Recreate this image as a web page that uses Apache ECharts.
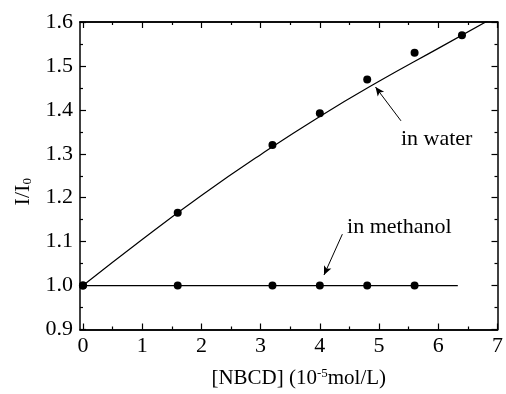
<!DOCTYPE html>
<html>
<head>
<meta charset="utf-8">
<script src="https://cdn.jsdelivr.net/npm/echarts@6/dist/echarts.min.js"></script>
<style>
  html, body { margin: 0; padding: 0; background: #fff; }
  #chart { width: 506px; height: 394px; }
</style>
</head>
<body>
<div id="chart"></div>
<script>
// measured points
var concWater = [0, 1.6, 3.2, 4.0, 4.8, 5.6, 6.4];
var ratioWater = [1.0, 1.166, 1.32, 1.392, 1.469, 1.53, 1.57];
var concMethanol = [0, 1.6, 3.2, 4.0, 4.8, 5.6];
var ratioMethanol = [1.0, 1.0, 1.0, 1.0, 1.0, 1.0];

// fitted curve
var fitX = [0, 1, 2, 3, 4, 5, 6, 7];
var fitWater = [1.0, 1.105, 1.205, 1.298, 1.385, 1.465, 1.54, 1.615];
var methanolLineX = [0, 6.33];
var methanolLineY = [1.0, 1.0];

var xTicks = [0, 1, 2, 3, 4, 5, 6, 7];
var xMinorTicks = [0.5, 1.5, 2.5, 3.5, 4.5, 5.5, 6.5];

function pairs(xs, ys) {
    return xs.map(function (x, i) { return [x, ys[i]]; });
}

var font = 'Liberation Serif';
var black = '#000';

function xAxisCfg(pos, ticks, len, labels) {
    return {
        type: 'value', position: pos, min: -0.05, max: 7,
        axisLine: { show: true, onZero: false, lineStyle: { color: black, width: 1.5 } },
        axisTick: { show: true, inside: true, length: len, customValues: ticks, lineStyle: { color: black, width: 1.2 } },
        axisLabel: labels ? {
            show: true, customValues: xTicks, showMaxLabel: true, showMinLabel: true,
            margin: 6, color: black, fontFamily: font, fontSize: 22
        } : { show: false },
        splitLine: { show: false }
    };
}

function yAxisCfg(pos, labels) {
    return {
        type: 'value', position: pos, min: 0.9, max: 1.6, interval: 0.1,
        axisLine: { show: true, onZero: false, lineStyle: { color: black, width: 1.5 } },
        axisTick: { show: true, inside: true, length: 6, lineStyle: { color: black, width: 1.2 } },
        minorTick: { show: true, splitNumber: 2, length: 3, lineStyle: { color: black, width: 1.2 } },
        axisLabel: labels ? {
            show: true, margin: 7, color: black, fontFamily: font, fontSize: 22,
            formatter: function (v) { return v.toFixed(1); }
        } : { show: false },
        splitLine: { show: false }
    };
}

var chart = echarts.init(document.getElementById('chart'));

var xBottom = xAxisCfg('bottom', xTicks, 6, true);
xBottom.name = '[NBCD] (10{sup|-5}mol/L)';
xBottom.nameLocation = 'middle';
xBottom.nameGap = 38;
xBottom.nameTextStyle = {
    color: black, fontFamily: font, fontSize: 21, padding: [0, 0, 0, 20],
    rich: { sup: { fontSize: 13, fontFamily: font, color: black, padding: [0, 0, 9, 0] } }
};

var yLeft = yAxisCfg('left', true);
yLeft.name = 'I/I{sub|0}';
yLeft.nameLocation = 'middle';
yLeft.nameRotate = 90;
yLeft.nameGap = 41;
yLeft.nameTextStyle = {
    color: black, fontFamily: font, fontSize: 22, padding: [0, 32, 0, 0],
    rich: { sub: { fontSize: 13, fontFamily: font, color: black, padding: [8, 0, 0, 0] } }
};

var option = {
    animation: false,
    backgroundColor: '#fff',
    grid: { left: 80, right: 7, top: 22, bottom: 62 },
    xAxis: [
        xBottom,
        xAxisCfg('bottom', xMinorTicks, 3, false),
        xAxisCfg('top', xTicks, 6, false),
        xAxisCfg('top', xMinorTicks, 3, false)
    ],
    yAxis: [yLeft, yAxisCfg('right', false)],
    series: [
        {
            name: 'water fit', type: 'line', data: pairs(fitX, fitWater), smooth: true,
            showSymbol: false, clip: true, lineStyle: { color: black, width: 1.2 }, silent: true,
            markLine: {
                silent: true, symbol: ['none', 'arrow'], symbolSize: [6, 9],
                label: { show: false },
                lineStyle: { color: black, width: 1, type: 'solid' },
                data: [[{ coord: [5.37, 1.375] }, { coord: [4.94, 1.452] }]]
            },
            markPoint: {
                silent: true, symbol: 'circle', symbolSize: 0,
                data: [{
                    coord: [5.37, 1.334],
                    label: { show: true, formatter: 'in water', position: 'right', distance: 0, color: black, fontFamily: font, fontSize: 22 }
                }]
            }
        },
        {
            name: 'methanol line', type: 'line', data: pairs(methanolLineX, methanolLineY),
            showSymbol: false, lineStyle: { color: black, width: 1.2 }, silent: true,
            markLine: {
                silent: true, symbol: ['none', 'arrow'], symbolSize: [6, 9],
                label: { show: false },
                lineStyle: { color: black, width: 1, type: 'solid' },
                data: [[{ coord: [4.38, 1.117] }, { coord: [4.07, 1.024] }]]
            },
            markPoint: {
                silent: true, symbol: 'circle', symbolSize: 0,
                data: [{
                    coord: [4.46, 1.133],
                    label: { show: true, formatter: 'in methanol', position: 'right', distance: 0, color: black, fontFamily: font, fontSize: 22 }
                }]
            }
        },
        {
            name: 'in water', type: 'scatter', data: pairs(concWater, ratioWater),
            symbol: 'circle', symbolSize: 8, itemStyle: { color: black, opacity: 1 }, clip: false
        },
        {
            name: 'in methanol', type: 'scatter', data: pairs(concMethanol, ratioMethanol),
            symbol: 'circle', symbolSize: 8, itemStyle: { color: black, opacity: 1 }, clip: false
        }
    ]
};

chart.setOption(option);
</script>
</body>
</html>
